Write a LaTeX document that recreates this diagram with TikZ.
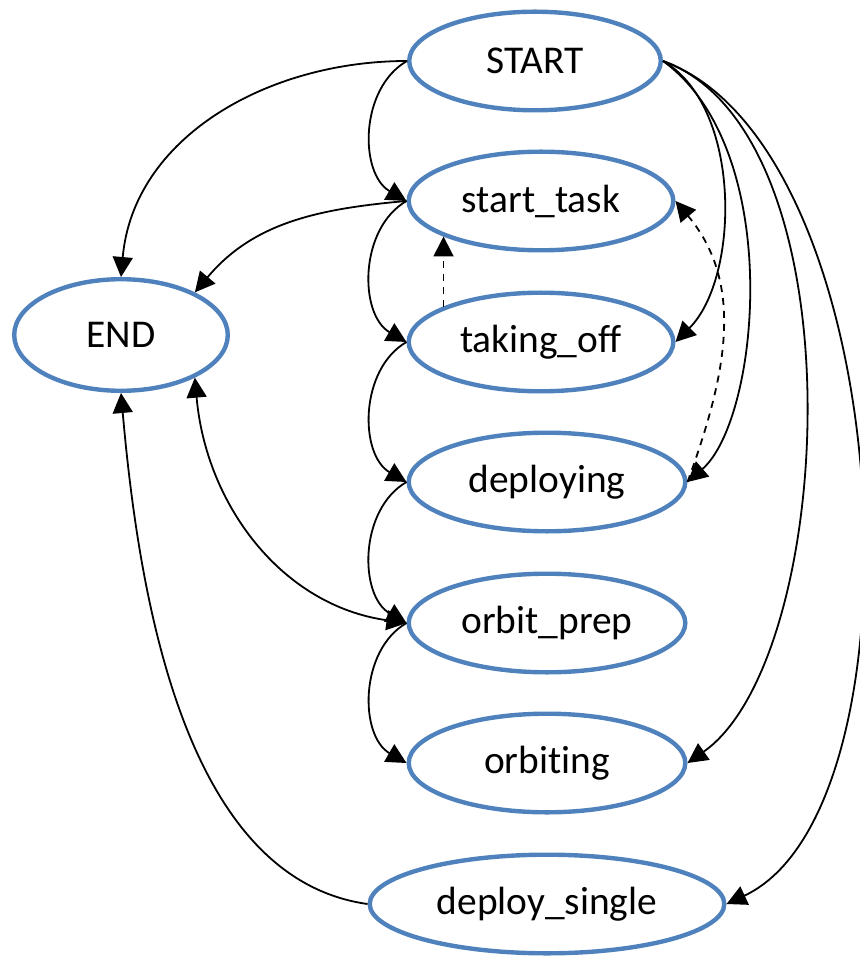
\documentclass[tikz,border=0pt]{standalone}
\usepackage{fontspec}
\setmainfont{Carlito}[Ligatures=NoCommon]
\usetikzlibrary{arrows.meta,shapes.geometric}
\definecolor{stateblue}{RGB}{79,129,189}
\tikzset{
  state/.style={ellipse, draw=stateblue, line width=2.2pt, inner sep=0pt,
    minimum height=49.3pt, font=\fontsize{19.7}{23}\selectfont},
  link/.style={-{Triangle[length=10pt,width=10pt]}, line width=0.9pt},
  maybe/.style={link, dash pattern=on 3.5pt off 3pt}
}

\begin{document}
\begin{tikzpicture}[x=0.5pt,y=0.5pt]
      \useasboundingbox (0,0) rectangle (859,-956);
      \node[state, minimum width=125.8pt] (START) at (535,-61) {START};
      \node[state, minimum width=132.3pt] (start_task) at (541,-201) {start\_task};
      \node[state, minimum width=132.3pt] (taking_off) at (541,-342) {taking\_off};
      \node[state, minimum width=138.3pt] (deploying) at (547,-482) {deploying};
      \node[state, minimum width=138.3pt] (orbit_prep) at (547,-623) {orbit\_prep};
      \node[state, minimum width=138.3pt] (orbiting) at (547,-763) {orbiting};
      \node[state, minimum width=177.3pt] (deploy_single) at (547,-904) {deploy\_single};
      \node[state, minimum width=106.8pt, minimum height=55.8pt] (END) at (121,-335) {END};

      % left chain
      \foreach \a/\b in {START/start_task, start_task/taking_off, taking_off/deploying,
                         deploying/orbit_prep, orbit_prep/orbiting}{
        \draw[link] (\a.west) to[bend right=60] (\b.west);
      }

      % into END
      \draw[link] (START.west) to[out=180,in=85] (END.north);
      \draw[link] (start_task.west) to[out=185,in=50] (END.30);
      \draw[link] (deploy_single.west) to[out=172,in=-85,out looseness=0.81] (END.south);
      \draw[link, {Triangle[length=10pt,width=10pt]}-{Triangle[length=10pt,width=10pt]}]
        (END.-30) to[out=-85,in=172] (orbit_prep.west);

      % from START, right side
      \draw[link] (START.east) to[out=-30,in=45,looseness=0.83] (taking_off.east);
      \draw[link] (START.east) to[out=-36,in=41,out looseness=0.92,in looseness=0.58] (deploying.east);
      \draw[link] (START.east) to[out=-20,in=35,out looseness=0.77,in looseness=0.66] (orbiting.east);
      \draw[link] (START.east) to[out=-20,in=25,out looseness=0.76,in looseness=0.68] (deploy_single.east);

      % dashed
      \draw[maybe] (taking_off.160) -- (start_task.200);
      \draw[maybe] (deploying.east) to[out=70,in=-50] (start_task.east);
\end{tikzpicture}
\end{document}
